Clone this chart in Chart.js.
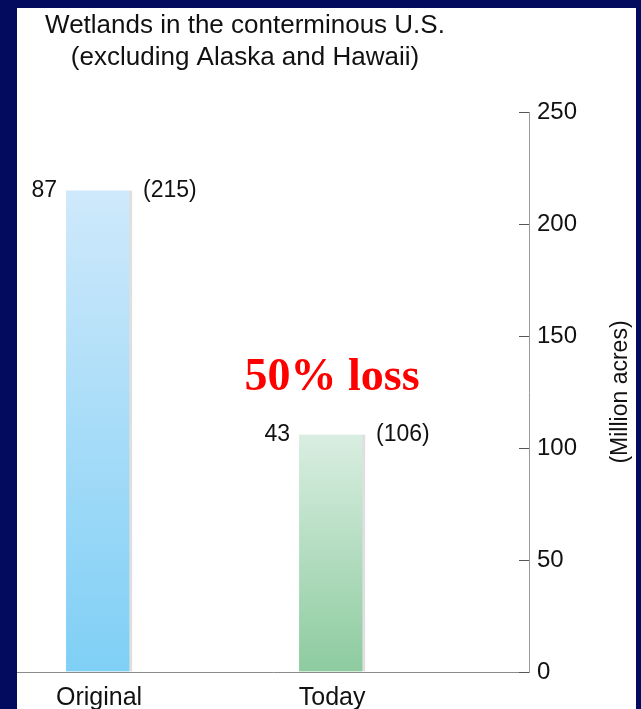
<!DOCTYPE html>
<html>
<head>
<meta charset="utf-8">
<script src="https://cdn.jsdelivr.net/npm/chart.js@4"></script>
<style>
  html, body { margin: 0; padding: 0; }
  body { width: 641px; height: 709px; background: #020b5e; position: relative; overflow: hidden; }
  .panel { position: absolute; left: 17px; top: 8px; width: 619px; height: 701px; background: #fff; }
  canvas { position: absolute; left: 0; top: 0; }
</style>
</head>
<body>
<div class="panel"></div>
<canvas id="wetlands" width="641" height="709"></canvas>
<script>
// data
const categories = ['Original', 'Today'];
const acres = [215, 106];       // million acres (bar height)
const hectares = [87, 43];      // million hectares (left label)
const yTicks = [0, 50, 100, 150, 200, 250];
const titleLines = ['Wetlands in the conterminous U.S.', '(excluding Alaska and Hawaii)'];
const yTitle = '(Million acres)';
const lossText = '50% loss';

const topColors = ['#cfe9fb', '#d9eee1'];
const bottomColors = ['#7fcff5', '#8dcb9f'];
const sans = '"Liberation Sans", Arial, Helvetica, sans-serif';

const extras = {
  id: 'extras',
  afterDraw(chart) {
    const ctx = chart.ctx;
    const y = chart.scales.y;
    const x = chart.scales.x;
    ctx.save();

    // tick marks on the inner side of the axis
    ctx.strokeStyle = '#555';
    ctx.lineWidth = 1;
    yTicks.forEach(v => {
      const py = Math.round(y.getPixelForValue(v)) + 0.5;
      ctx.beginPath();
      ctx.moveTo(y.left - 10, py);
      ctx.lineTo(y.left, py);
      ctx.stroke();
    });

    // value labels beside each bar
    ctx.fillStyle = '#111';
    ctx.font = '23px ' + sans;
    ctx.textBaseline = 'middle';
    chart.getDatasetMeta(0).data.forEach((bar, i) => {
      const half = bar.width / 2;
      ctx.textAlign = 'right';
      ctx.fillText(String(hectares[i]), bar.x - half - 9, bar.y);
      ctx.textAlign = 'left';
      ctx.fillText('(' + acres[i] + ')', bar.x + half + 11, bar.y);
    });

    // title
    ctx.textAlign = 'center';
    ctx.textBaseline = 'alphabetic';
    ctx.font = '26px ' + sans;
    ctx.fillText(titleLines[0], 245, 33);
    ctx.fillText(titleLines[1], 245, 65);

    // y axis title, reading bottom to top
    ctx.save();
    ctx.translate(621, (y.top + y.bottom) / 2);
    ctx.rotate(-Math.PI / 2);
    ctx.font = '23px ' + sans;
    ctx.textBaseline = 'middle';
    ctx.fillText(yTitle, 0, 0);
    ctx.restore();

    // red annotation
    ctx.fillStyle = '#ff0000';
    ctx.font = 'bold 46px "Liberation Serif", "Times New Roman", serif';
    ctx.textBaseline = 'middle';
    ctx.fillText(lossText, x.getPixelForValue(1), y.getPixelForValue(131));

    ctx.restore();
  }
};

new Chart(document.getElementById('wetlands'), {
  type: 'bar',
  data: {
    datasets: [{
      data: acres.map((v, i) => ({ x: i, y: v })),
      barThickness: 66,
      backgroundColor: (c) => {
        const chart = c.chart;
        if (!chart.chartArea || !c.raw) return topColors[c.dataIndex];
        const y = chart.scales.y;
        const g = chart.ctx.createLinearGradient(0, y.getPixelForValue(c.raw.y), 0, y.getPixelForValue(0));
        g.addColorStop(0, topColors[c.dataIndex]);
        g.addColorStop(1, bottomColors[c.dataIndex]);
        return g;
      },
      borderColor: 'rgba(110,110,110,0.22)',
      borderWidth: { top: 0, left: 0, bottom: 0, right: 3 },
      borderSkipped: false
    }]
  },
  options: {
    responsive: false,
    animation: false,
    layout: { padding: { left: 17, top: 112, right: 0, bottom: 0 } },
    plugins: {
      legend: { display: false },
      tooltip: { enabled: false },
      title: { display: false }
    },
    scales: {
      x: {
        type: 'linear',
        offset: false,
        bounds: 'ticks',
        min: -0.352,
        max: 1.845,
        afterBuildTicks: (s) => { s.ticks = categories.map((_, i) => ({ value: i })); },
        afterFit: (s) => { s.height = 37; },
        grid: { display: false, drawTicks: false },
        border: { display: true, color: '#8a8a8a', width: 1 },
        ticks: {
          padding: 11,
          color: '#111',
          font: { family: sans, size: 25 },
          maxRotation: 0,
          callback: (v) => categories[v] ?? ''
        }
      },
      y: {
        position: 'right',
        min: 0,
        max: 250,
        afterBuildTicks: (s) => { s.ticks = yTicks.map(v => ({ value: v })); },
        afterFit: (s) => { s.width = 112; },
        grid: { drawOnChartArea: false, drawTicks: false },
        border: { display: true, color: '#9a9a9a', width: 1 },
        ticks: {
          padding: 8,
          color: '#111',
          font: { family: sans, size: 24 }
        }
      }
    }
  },
  plugins: [extras]
});
</script>
</body>
</html>
